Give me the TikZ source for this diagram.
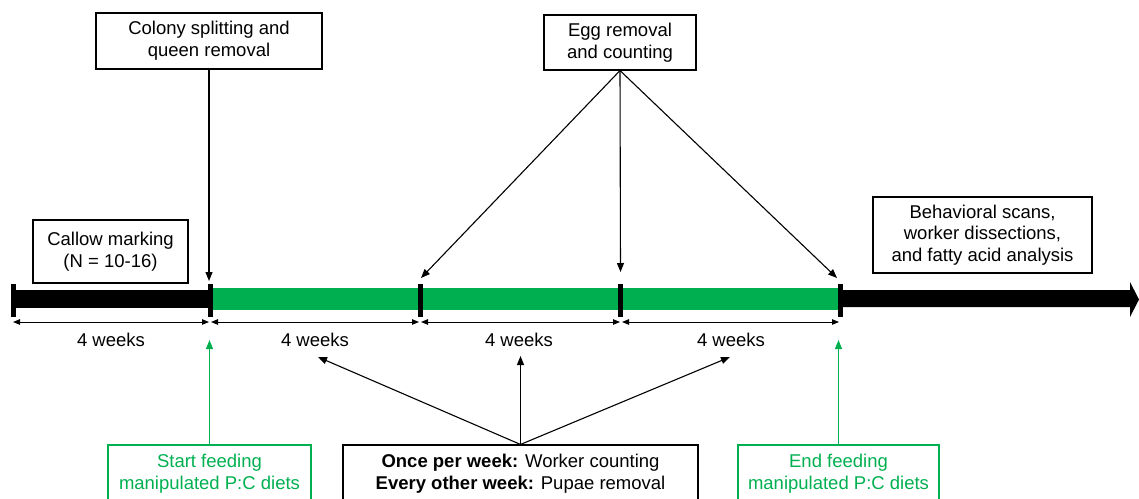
\documentclass[tikz,border=0pt]{standalone}
\usepackage{fontspec}
\setmainfont{Liberation Sans}
\usetikzlibrary{arrows.meta}
\definecolor{pgreen}{HTML}{00B050}
\begin{document}
\begin{tikzpicture}[x=1pt,y=-1pt,
  txt/.style={font=\fontsize{18.5}{21.6}\selectfont},
  box/.style={draw, line width=1.1pt, inner sep=0pt, align=center, txt},
  gbox/.style={box, draw=pgreen, text=pgreen},
  arr/.style={line width=1.1pt, -{Triangle[length=9pt,width=7pt]}},
  garr/.style={line width=1.1pt, draw=pgreen, -{Triangle[length=9pt,width=7pt,fill=pgreen]}},
  dim/.style={line width=1pt, {Triangle[length=7pt,width=5.5pt]}-{Triangle[length=7pt,width=5.5pt]}},
  tickmark/.style={fill=black, draw=none, minimum width=5pt, minimum height=33pt, inner sep=0pt},
  lbl/.style={txt, inner sep=0pt}
]
\useasboundingbox (0,0) rectangle (1139,498);
\clip (0,0) rectangle (1139,498);

% timeline bars
\fill (12,289.5) rectangle (210,307.5);
\fill[pgreen] (210,288) rectangle (840,310);
\fill (840,290) -- (1130,290) -- (1130,282) -- (1139,299.5) -- (1130,317) -- (1130,307) -- (840,307) -- cycle;

% ticks
\node[tickmark] (t0) at (13,300.5) {};
\node[tickmark] (t1) at (210,300.5) {};
\node[tickmark] (t2) at (420,300.5) {};
\node[tickmark] (t3) at (620.5,300.5) {};
\node[tickmark] (t4) at (840,300.5) {};

% dimension arrows
\coordinate (d0r) at (13,322);
\coordinate (d1l) at (209,322);
\coordinate (d1r) at (211,322);
\coordinate (d2l) at (419,322);
\coordinate (d2r) at (421,322);
\coordinate (d3l) at (620,322);
\coordinate (d3r) at (622,322);
\coordinate (d4l) at (839,322);
\draw[dim] (d0r) -- (d1l);
\draw[dim] (d1r) -- (d2l);
\draw[dim] (d2r) -- (d3l);
\draw[dim] (d3r) -- (d4l);

\node[lbl] (w1) at (111,340) {4 weeks};
\node[lbl] (w2) at (315,340) {4 weeks};
\node[lbl] (w3) at (519,340) {4 weeks};
\node[lbl] (w4) at (731,340) {4 weeks};

% top boxes
\node[box, minimum width=226pt, minimum height=56pt] (colony) at (209,41) {Colony splitting and\\queen removal};
\node[box, minimum width=152pt, minimum height=55pt] (egg) at (620,42.5) {Egg removal\\and counting};
\node[box, minimum width=155pt, minimum height=63pt] (callow) at (110.5,251.5) {Callow marking\\(N = 10-16)};
\node[box, minimum width=219pt, minimum height=76pt] (behav) at (982.5,235) {Behavioral scans,\\worker dissections,\\and fatty acid analysis};

\coordinate (c1) at (209,281);
\draw[arr] (colony.south) -- (c1);

\coordinate (e1) at (421,278);
\coordinate (e2) at (620.5,272);
\coordinate (e3) at (837,278);
\draw[arr] (egg.south) -- (e1);
\draw[arr] (egg.south) -- (e2);
\draw[arr] (egg.south) -- (e3);

% bottom boxes
\node[gbox, minimum width=203pt, minimum height=58pt] (start) at (209.5,474) {Start feeding\\manipulated P:C diets};
\node[box, minimum width=355pt, minimum height=58pt] (mid) at (520.5,474) {{\bfseries Once per week:} Worker counting\\{\bfseries Every other week:} Pupae removal};
\node[gbox, minimum width=201pt, minimum height=58pt] (end) at (838.5,474) {End feeding\\manipulated P:C diets};

\coordinate (g1) at (209.5,340);
\coordinate (g2) at (838.5,340);
\draw[garr] (start.north) -- (g1);
\draw[garr] (end.north) -- (g2);

\coordinate (m1) at (318,357);
\coordinate (m2) at (520.5,356);
\coordinate (m3) at (730,357);
\draw[arr] (mid.north) -- (m1);
\draw[arr] (mid.north) -- (m2);
\draw[arr] (mid.north) -- (m3);
\end{tikzpicture}
\end{document}
